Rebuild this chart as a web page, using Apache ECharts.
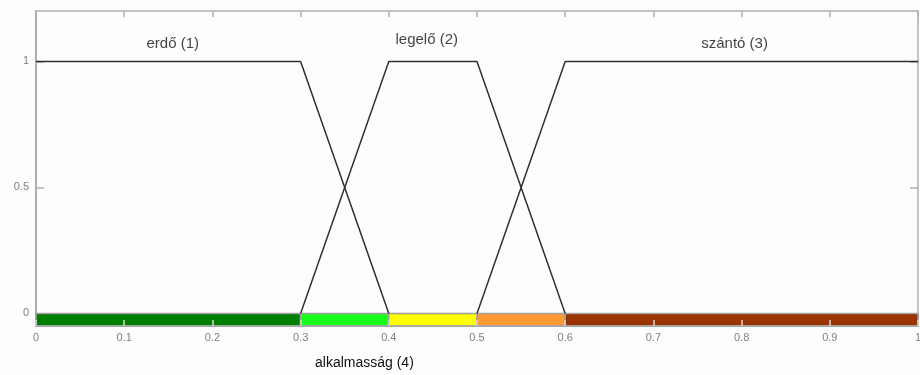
<!DOCTYPE html>
<html>
<head>
<meta charset="utf-8">
<script src="https://cdn.jsdelivr.net/npm/echarts@6/dist/echarts.min.js"></script>
<style>
html, body { margin: 0; padding: 0; background: #fdfdfd; }
#container { width: 920px; height: 375px; }
</style>
</head>
<body>
<div id="container"></div>
<script>
var dom = document.getElementById("container");
var myChart = echarts.init(dom);

// membership functions (trapezoids)
var erdo = [[0, 1], [0.3, 1], [0.4, 0]];
var legelo = [[0.3, 0], [0.4, 1], [0.5, 1], [0.6, 0]];
var szanto = [[0.5, 0], [0.6, 1], [1, 1]];

// suitability colour bands
var bandEdges = [0, 0.3, 0.4, 0.5, 0.6, 1];
var bandColors = ['#007f00', '#19ff19', '#ffff00', '#ff9933', '#993300'];
var bandBottom = -0.05;

var xTicks = [0, 0.1, 0.2, 0.3, 0.4, 0.5, 0.6, 0.7, 0.8, 0.9, 1];
var yTicks = [0, 0.5, 1];

var labels = [
    {text: 'erdő (1)', x: 0.155, y: 1.07},
    {text: 'legelő (2)', x: 0.443, y: 1.087},
    {text: 'szántó (3)', x: 0.792, y: 1.07}
];

var bands = [];
for (var i = 0; i < bandColors.length; i++) {
    bands.push([
        {xAxis: bandEdges[i], yAxis: bandBottom, itemStyle: {color: bandColors[i]}},
        {xAxis: bandEdges[i + 1], yAxis: 0}
    ]);
}

var lineStyle = {color: '#303030', width: 1.5};
var fontFamily = '"Liberation Sans", Arial, sans-serif';

option = {
    animation: false,
    backgroundColor: '#fdfdfd',
    grid: {
        left: 36, right: 2, top: 11, bottom: 49,
        outerBoundsMode: 'none',
        show: true, borderColor: '#b0b0b0', borderWidth: 1.5
    },
    xAxis: [
        {
            type: 'value', min: 0, max: 1, interval: 0.1, z: 5,
            position: 'bottom',
            splitLine: {show: false},
            axisLine: {onZero: false, lineStyle: {color: '#a8a8a8', width: 1.5}},
            axisTick: {inside: true, length: 6, lineStyle: {color: '#d8d8d8', width: 1.5}},
            axisLabel: {color: '#808080', fontSize: 11, fontFamily: fontFamily, margin: 6,
                customValues: xTicks}
        },
        {
            type: 'value', min: 0, max: 1, interval: 0.1,
            position: 'top',
            splitLine: {show: false},
            axisLine: {show: false, onZero: false},
            axisTick: {inside: true, length: 6, lineStyle: {color: '#b0b0b0', width: 1.5}},
            axisLabel: {show: false}
        }
    ],
    yAxis: [
        {
            type: 'value', min: bandBottom, max: 1.2,
            splitLine: {show: false},
            axisLine: {show: true, onZero: false, lineStyle: {color: '#a8a8a8', width: 1.5}},
            axisTick: {inside: true, length: 8, customValues: yTicks,
                lineStyle: {color: '#b0b0b0', width: 1.5}},
            axisLabel: {color: '#808080', fontSize: 11, fontFamily: fontFamily, margin: 7,
                customValues: yTicks}
        },
        {
            type: 'value', min: bandBottom, max: 1.2, position: 'right',
            splitLine: {show: false},
            axisLine: {show: false, onZero: false},
            axisTick: {inside: true, length: 8, customValues: yTicks,
                lineStyle: {color: '#b0b0b0', width: 1.5}},
            axisLabel: {show: false}
        }
    ],
    graphic: [
        {
            type: 'text', left: 315, top: 356,
            style: {text: 'alkalmasság (4)', fill: '#111', font: '14px ' + fontFamily}
        }
    ],
    series: [
        {
            name: 'erdő', type: 'line', data: erdo, symbol: 'none',
            lineStyle: lineStyle, z: 3,
            markArea: {
                silent: true,
                itemStyle: {borderColor: '#a0a0a0', borderWidth: 1.5},
                data: bands
            }
        },
        {name: 'legelő', type: 'line', data: legelo, symbol: 'none', lineStyle: lineStyle, z: 3},
        {name: 'szántó', type: 'line', data: szanto, symbol: 'none', lineStyle: lineStyle, z: 3},
        {
            name: 'labels', type: 'scatter', symbolSize: 0, silent: true,
            data: labels.map(function (l) { return {value: [l.x, l.y], name: l.text}; }),
            label: {
                show: true, position: 'inside', formatter: '{b}',
                color: '#111', fontSize: 15, fontFamily: fontFamily
            }
        }
    ]
};
if (option && typeof option === "object") {
    myChart.setOption(option, true);
}
</script>
</body>
</html>
